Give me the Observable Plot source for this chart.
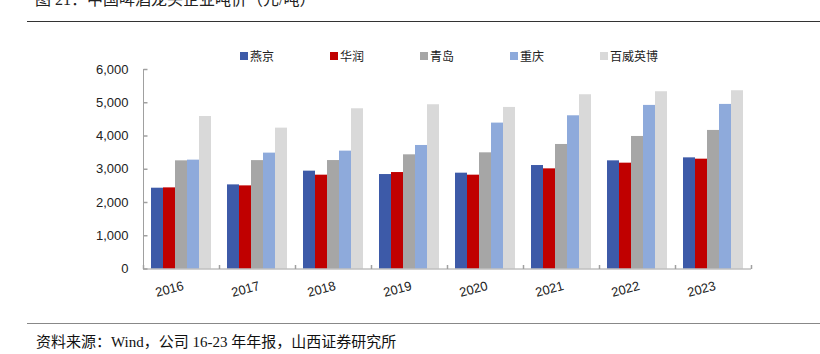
<!DOCTYPE html>
<html>
<head>
<meta charset="utf-8">
<script src="https://cdn.jsdelivr.net/npm/d3@7"></script>
<script src="https://cdn.jsdelivr.net/npm/@observablehq/plot@0.6"></script>
<style>
  html, body { margin: 0; padding: 0; background: #fff; }
  #wrap { position: relative; width: 820px; height: 354px; overflow: hidden; background: #fff; }
  #title { position: absolute; left: 35px; top: -8px; font: 16px/16px "Liberation Serif", "Noto Sans CJK SC", serif; color: #222; white-space: nowrap; }
  #rule-top { position: absolute; left: 27px; top: 21px; width: 793px; border-top: 1.5px solid #333; }
  #legend { position: absolute; left: 240px; top: 48px; display: flex; font: 12px/15px "Noto Sans CJK SC", sans-serif; color: #222; }
  #legend .item { width: 90px; display: flex; align-items: center; white-space: nowrap; }
  #legend .sw { width: 8px; height: 8px; margin-right: 2px; }
  #chart { position: absolute; left: 0; top: 0; }
  #rule-bottom { position: absolute; left: 27px; top: 323px; width: 793px; border-top: 1.5px solid #888; }
  #caption { position: absolute; left: 36px; top: 334px; font: 15px/16px "Liberation Serif", "Noto Sans CJK SC", serif; color: #111; white-space: nowrap; }
</style>
</head>
<body>
<div id="wrap">
  <div id="title">图 21：中国啤酒龙头企业吨价（元/吨）</div>
  <div id="rule-top"></div>
  <div id="legend"></div>
  <div id="chart"></div>
  <div id="rule-bottom"></div>
  <div id="caption">资料来源：Wind，公司 16-23 年年报，山西证券研究所</div>
</div>
<script>
// ---- data ----
const years = ["2016", "2017", "2018", "2019", "2020", "2021", "2022", "2023"];
const series = ["燕京", "华润", "青岛", "重庆", "百威英博"];
const yanjing   = [2430, 2530, 2943, 2841, 2882, 3112, 3253, 3343];
const huarun    = [2440, 2500, 2822, 2901, 2822, 3012, 3183, 3303];
const qingdao   = [3253, 3260, 3262, 3434, 3494, 3745, 3986, 4167];
const chongqing = [3274, 3485, 3545, 3715, 4388, 4608, 4920, 4950];
const budweiser = [4587, 4237, 4819, 4940, 4859, 5241, 5331, 5361];
const yTicks = [0, 1000, 2000, 3000, 4000, 5000, 6000];
const colors = ["#3D5AA8", "#C00000", "#A6A6A6", "#8EAADB", "#D9D9D9"];

const seriesValues = [yanjing, huarun, qingdao, chongqing, budweiser];
const table = years.flatMap((yr, i) =>
  series.map((s, k) => ({year: yr, series: s, value: seriesValues[k][i]})));

// ---- legend ----
const legend = document.getElementById("legend");
series.forEach((s, k) => {
  const it = document.createElement("div");
  it.className = "item";
  it.innerHTML = `<span class="sw" style="background:${colors[k]}"></span><span>${s}</span>`;
  legend.appendChild(it);
});

// ---- tick symbols (inward ticks) ----
const vTick = {draw(ctx) { ctx.moveTo(0, 0); ctx.lineTo(0, -4); }};
const hTick = {draw(ctx) { ctx.moveTo(0, 0); ctx.lineTo(4, 0); }};
const axisColor = "#A0A0A0";

const chart = Plot.plot({
  width: 820,
  height: 354,
  marginLeft: 142,
  marginRight: 68,
  marginTop: 69,
  marginBottom: 85.5,
  fx: {domain: years, padding: 0, axis: null},
  x: {domain: series, paddingInner: 0, paddingOuter: 0.625, axis: null},
  y: {domain: [0, 6000], axis: null},
  color: {domain: series, range: colors},
  style: {fontFamily: "'Liberation Sans', Arial, sans-serif", fontSize: "13px", color: "#222", background: "transparent"},
  marks: [
    Plot.barY(table, {fx: "year", x: "series", y: "value", fill: "series"}),
    Plot.ruleY([0], {stroke: axisColor}),
    Plot.frame({anchor: "left", stroke: axisColor, facetAnchor: "left"}),
    Plot.axisY(yTicks, {anchor: "left", label: null, tickSize: 0, tickPadding: 15, tickFormat: d3.format(","), fontSize: 13, fill: "#222"}),
    Plot.dot(yTicks, {y: d => d, frameAnchor: "left", symbol: hTick, stroke: axisColor, fill: "none", facetAnchor: "left"}),
    Plot.dot(years, {fx: d => d, frameAnchor: "bottom-left", symbol: vTick, stroke: axisColor, fill: "none"}),
    Plot.dot(years.slice(-1), {fx: d => d, frameAnchor: "bottom-right", symbol: vTick, stroke: axisColor, fill: "none"}),
    Plot.text(years, {fx: d => d, text: d => d, frameAnchor: "bottom", rotate: -15, textAnchor: "end", lineAnchor: "middle", dx: 2, dy: 16.5, fontSize: 13, fill: "#222"})
  ]
});
document.getElementById("chart").appendChild(chart);
</script>
</body>
</html>
